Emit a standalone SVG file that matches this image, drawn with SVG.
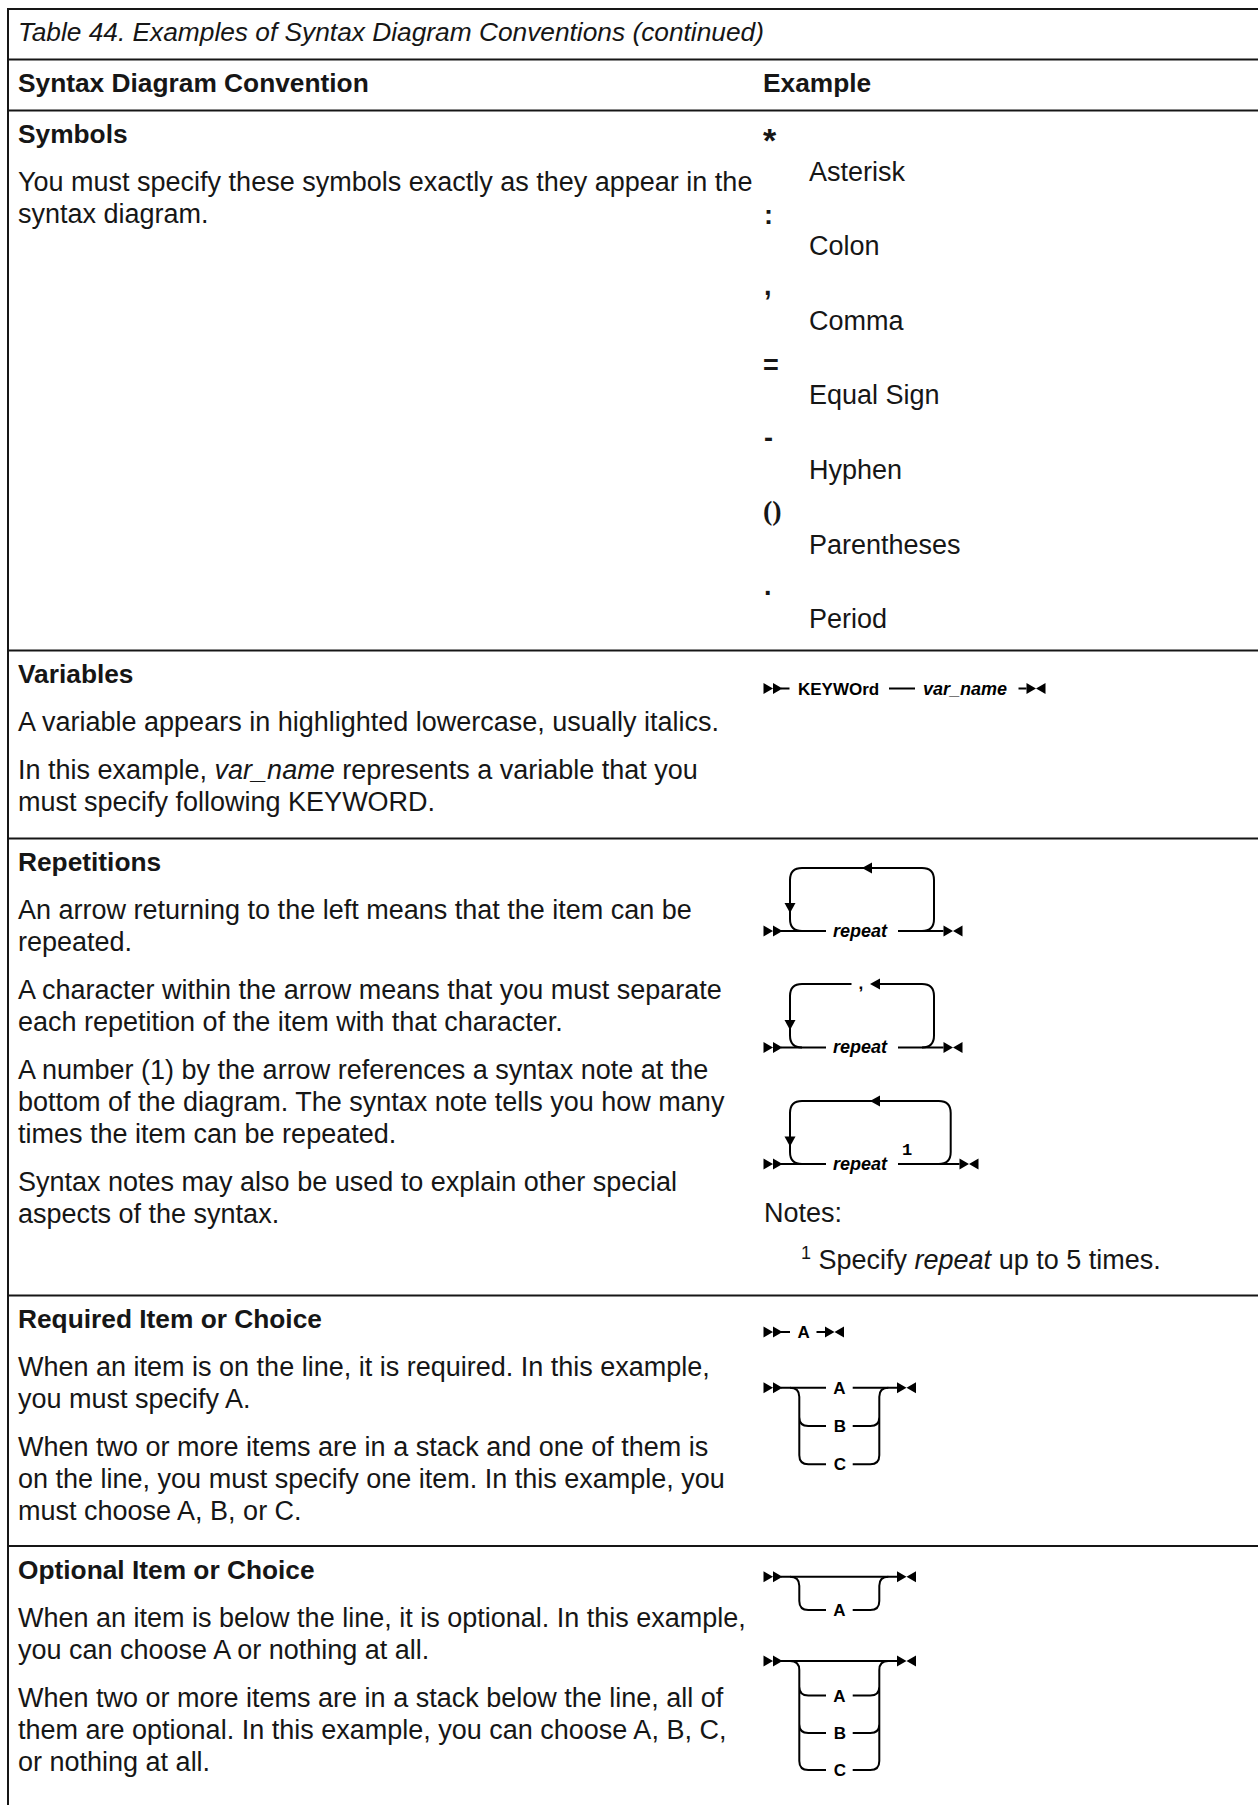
<svg xmlns="http://www.w3.org/2000/svg" width="1258" height="1805" viewBox="0 0 1258 1805">
<style>
  .t{font-family:"Liberation Sans",Arial,sans-serif;font-size:27px;fill:#161616}
  .b{font-weight:bold;font-size:26.3px}
  .ti{font-style:italic;font-size:26.3px}
  .grid{stroke:#161616;stroke-width:2;fill:none}
  .d{fill:none;stroke:#000;stroke-width:2}
  .ah{fill:#000;stroke:none}
  .lbl{font-family:"Liberation Sans",Arial,sans-serif;font-size:17px;font-weight:bold;fill:#000}
  .it{font-style:italic;font-size:18px}
  .sym{font-family:"Liberation Sans",Arial,sans-serif;font-size:27px;font-weight:bold;fill:#161616}
</style>
<defs>
  <path id="st" class="ah" d="M0,-5.5 L9.5,0 L0,5.5 Z M9.5,-5.5 L19,0 L9.5,5.5 Z"/>
  <path id="en" class="ah" d="M0,-5.5 L9.5,0 L0,5.5 Z M19,-5.5 L9.5,0 L19,5.5 Z"/>
  <path id="al" class="ah" d="M0,0 L10,-5.5 L10,5.5 Z"/>
  <path id="ad" class="ah" d="M0,0 L-5.5,-10 L5.5,-10 Z"/>
</defs>
<rect width="1258" height="1805" fill="#fff"/>

<g id="table-grid" class="grid">
  <line x1="7" y1="9" x2="1258" y2="9"/>
  <line x1="8" y1="8" x2="8" y2="1805"/>
  <line x1="8" y1="59.5" x2="1258" y2="59.5"/>
  <line x1="8" y1="110.5" x2="1258" y2="110.5"/>
  <line x1="8" y1="650.5" x2="1258" y2="650.5"/>
  <line x1="8" y1="838.5" x2="1258" y2="838.5"/>
  <line x1="8" y1="1295.5" x2="1258" y2="1295.5"/>
  <line x1="8" y1="1546" x2="1258" y2="1546"/>
</g>

<g id="caption">
  <text class="t ti" x="18" y="41">Table 44. Examples of Syntax Diagram Conventions (continued)</text>
</g>

<g id="header">
  <text class="t b" x="18" y="92">Syntax Diagram Convention</text>
  <text class="t b" x="763" y="92">Example</text>
</g>

<g id="row-symbols">
  <text class="t b" x="18" y="143">Symbols</text>
  <text class="t" x="18" y="191">You must specify these symbols exactly as they appear in the</text>
  <text class="t" x="18" y="223">syntax diagram.</text>
  <text class="sym" x="763" y="152" style="font-size:34px">*</text>
  <text class="t" x="809" y="180.6">Asterisk</text>
  <text class="sym" x="764" y="224">:</text>
  <text class="t" x="809" y="255.2">Colon</text>
  <text class="sym" x="764" y="295">,</text>
  <text class="t" x="809" y="329.8">Comma</text>
  <text class="sym" x="763" y="374">=</text>
  <text class="t" x="809" y="404.4">Equal Sign</text>
  <text class="sym" x="764" y="446.5">-</text>
  <text class="t" x="809" y="479">Hyphen</text>
  <text class="sym" x="763" y="520" style="font-family:'Liberation Serif',serif;font-size:28px">()</text>
  <text class="t" x="809" y="553.6">Parentheses</text>
  <text class="sym" x="764" y="595">.</text>
  <text class="t" x="809" y="628.2">Period</text>
</g>

<g id="row-variables">
  <text class="t b" x="18" y="683">Variables</text>
  <text class="t" x="18" y="731">A variable appears in highlighted lowercase, usually italics.</text>
  <text class="t" x="18" y="779">In this example, <tspan font-style="italic">var_name</tspan> represents a variable that you</text>
  <text class="t" x="18" y="811">must specify following KEYWORD.</text>
  <g id="diag-var">
    <use href="#st" x="763.5" y="688.5"/>
    <path class="d" d="M781 688.5 H789.5 M889 688.5 H915 M1018.5 688.5 H1026.5"/>
    <text class="lbl" x="798" y="694.5">KEYWOrd</text>
    <text class="lbl it" x="923" y="694.5">var_name</text>
    <use href="#en" x="1026.5" y="688.5"/>
  </g>
</g>

<g id="row-repetitions">
  <text class="t b" x="18" y="871">Repetitions</text>
  <text class="t" x="18" y="919">An arrow returning to the left means that the item can be</text>
  <text class="t" x="18" y="951">repeated.</text>
  <text class="t" x="18" y="999">A character within the arrow means that you must separate</text>
  <text class="t" x="18" y="1031">each repetition of the item with that character.</text>
  <text class="t" x="18" y="1079">A number (1) by the arrow references a syntax note at the</text>
  <text class="t" x="18" y="1111">bottom of the diagram. The syntax note tells you how many</text>
  <text class="t" x="18" y="1143">times the item can be repeated.</text>
  <text class="t" x="18" y="1191">Syntax notes may also be used to explain other special</text>
  <text class="t" x="18" y="1223">aspects of the syntax.</text>

  <g id="diag-rep1">
    <use href="#st" x="763.5" y="931"/>
    <path class="d" d="M781 931 H826 M898 931 H943.5"/>
    <path class="d" d="M922 931 Q934 931 934 919 V880 Q934 868 922 868 H802 Q790 868 790 880 V919 Q790 931 802 931"/>
    <use href="#al" x="862" y="868"/>
    <use href="#ad" x="790" y="913"/>
    <text class="lbl it" x="833" y="936.5">repeat</text>
    <use href="#en" x="943.5" y="931"/>
  </g>

  <g id="diag-rep2">
    <use href="#st" x="763.5" y="1047.5"/>
    <path class="d" d="M781 1047.5 H826 M898 1047.5 H943.5"/>
    <path class="d" d="M922 1047.5 Q934 1047.5 934 1035.5 V996 Q934 984 922 984 H872"/>
    <path class="d" d="M851.5 984 H802 Q790 984 790 996 V1035.5 Q790 1047.5 802 1047.5"/>
    <text class="lbl" x="858.5" y="989">,</text>
    <use href="#al" x="870" y="984"/>
    <use href="#ad" x="790" y="1030"/>
    <text class="lbl it" x="833" y="1053">repeat</text>
    <use href="#en" x="943.5" y="1047.5"/>
  </g>

  <g id="diag-rep3">
    <use href="#st" x="763.5" y="1164"/>
    <path class="d" d="M781 1164 H826 M898 1164 H959.5"/>
    <path class="d" d="M938.7 1164 Q950.7 1164 950.7 1152 V1113 Q950.7 1101 938.7 1101 H802 Q790 1101 790 1113 V1152 Q790 1164 802 1164"/>
    <use href="#al" x="870" y="1101"/>
    <use href="#ad" x="790" y="1146.5"/>
    <text class="lbl it" x="833" y="1169.5">repeat</text>
    <text class="lbl" x="902" y="1155" style="font-family:'Liberation Mono',monospace;font-size:17px">1</text>
    <use href="#en" x="959.5" y="1164"/>
  </g>

  <text class="t" x="764" y="1221.5">Notes:</text>
  <text class="t" x="801" y="1268.5"><tspan font-size="18" dy="-10">1</tspan><tspan dy="10"> Specify </tspan><tspan font-style="italic">repeat</tspan> up to 5 times.</text>
</g>

<g id="row-required">
  <text class="t b" x="18" y="1328">Required Item or Choice</text>
  <text class="t" x="18" y="1376">When an item is on the line, it is required. In this example,</text>
  <text class="t" x="18" y="1408">you must specify A.</text>
  <text class="t" x="18" y="1456">When two or more items are in a stack and one of them is</text>
  <text class="t" x="18" y="1488">on the line, you must specify one item. In this example, you</text>
  <text class="t" x="18" y="1520">must choose A, B, or C.</text>

  <g id="diag-req-a">
    <use href="#st" x="763.5" y="1332"/>
    <path class="d" d="M781 1332 H790 M816.5 1332 H825"/>
    <text class="lbl" x="797.5" y="1338">A</text>
    <use href="#en" x="825" y="1332"/>
  </g>

  <g id="diag-req-abc">
    <use href="#st" x="763.5" y="1387.7"/>
    <path class="d" d="M781 1387.7 H826 M852.7 1387.7 H897"/>
    <path class="d" d="M790 1387.7 Q799.3 1387.7 799.3 1396.7 V1455.3 Q799.3 1464.3 808.3 1464.3 H826 M799.3 1417 Q799.3 1426 808.3 1426 H826"/>
    <path class="d" d="M888.3 1387.7 Q879.3 1387.7 879.3 1396.7 V1455.3 Q879.3 1464.3 870.3 1464.3 H852.7 M879.3 1417 Q879.3 1426 870.3 1426 H852.7"/>
    <text class="lbl" x="839.5" y="1393.7" text-anchor="middle">A</text>
    <text class="lbl" x="840" y="1432" text-anchor="middle">B</text>
    <text class="lbl" x="840" y="1470.3" text-anchor="middle">C</text>
    <use href="#en" x="897" y="1387.7"/>
  </g>
</g>

<g id="row-optional">
  <text class="t b" x="18" y="1579">Optional Item or Choice</text>
  <text class="t" x="18" y="1627">When an item is below the line, it is optional. In this example,</text>
  <text class="t" x="18" y="1659">you can choose A or nothing at all.</text>
  <text class="t" x="18" y="1707">When two or more items are in a stack below the line, all of</text>
  <text class="t" x="18" y="1739">them are optional. In this example, you can choose A, B, C,</text>
  <text class="t" x="18" y="1771">or nothing at all.</text>

  <g id="diag-opt-a">
    <use href="#st" x="763.5" y="1576.7"/>
    <path class="d" d="M781 1576.7 H897"/>
    <path class="d" d="M790 1576.7 Q799.3 1576.7 799.3 1585.7 V1601 Q799.3 1610 808.3 1610 H826"/>
    <path class="d" d="M888.3 1576.7 Q879.3 1576.7 879.3 1585.7 V1601 Q879.3 1610 870.3 1610 H852.7"/>
    <text class="lbl" x="839.5" y="1616" text-anchor="middle">A</text>
    <use href="#en" x="897" y="1576.7"/>
  </g>

  <g id="diag-opt-abc">
    <use href="#st" x="763.5" y="1661"/>
    <path class="d" d="M781 1661 H897"/>
    <path class="d" d="M790 1661 Q799.3 1661 799.3 1670 V1761 Q799.3 1770 808.3 1770 H826 M799.3 1686.5 Q799.3 1695.5 808.3 1695.5 H826 M799.3 1724 Q799.3 1733 808.3 1733 H826"/>
    <path class="d" d="M888.3 1661 Q879.3 1661 879.3 1670 V1761 Q879.3 1770 870.3 1770 H852.7 M879.3 1686.5 Q879.3 1695.5 870.3 1695.5 H852.7 M879.3 1724 Q879.3 1733 870.3 1733 H852.7"/>
    <text class="lbl" x="839.5" y="1701.5" text-anchor="middle">A</text>
    <text class="lbl" x="840" y="1739" text-anchor="middle">B</text>
    <text class="lbl" x="840" y="1776" text-anchor="middle">C</text>
    <use href="#en" x="897" y="1661"/>
  </g>
</g>
</svg>
